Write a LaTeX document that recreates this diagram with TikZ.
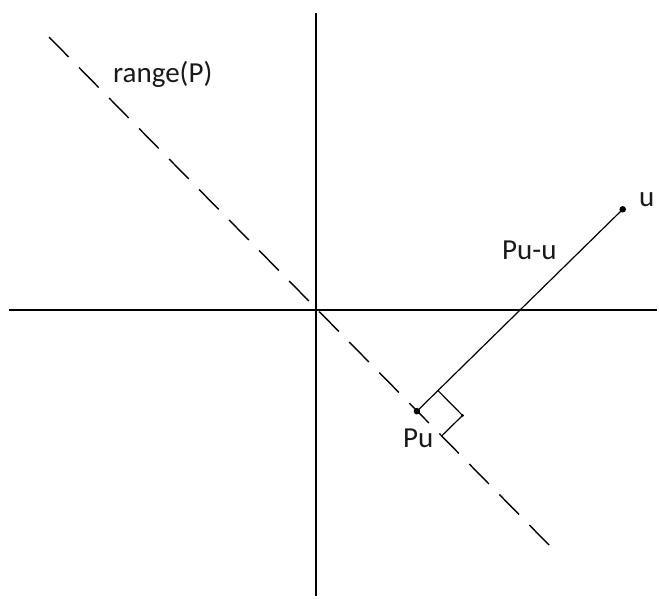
\documentclass[tikz,border=0pt]{standalone}
\usepackage{fontspec}
\setmainfont{Carlito}
\usetikzlibrary{calc}
\definecolor{pline}{RGB}{0,0,0}
\definecolor{ptext}{RGB}{25,25,25}
\tikzset{
  axis/.style={line width=1.8pt,pline},
  rangeline/.style={line width=1.4pt,pline,dash pattern=on 28pt off 14.8pt},
  vecline/.style={line width=1.2pt,pline},
  dot/.style={circle,fill=pline,inner sep=0pt,minimum size=6.5pt},
  smalldot/.style={circle,fill=pline,inner sep=0pt,minimum size=3pt},
  lbl/.style={font=\fontsize{29}{34}\selectfont,text=ptext,inner sep=0pt,anchor=base west},
}
\begin{document}
\begin{tikzpicture}[x=1pt,y=-1pt]
  \useasboundingbox (0,0) rectangle (659,598);
  % axes
  \coordinate (xl) at (9,310);
  \coordinate (xr) at (657,310);
  \coordinate (yt) at (316,13);
  \coordinate (yb) at (316,596);
  \draw[axis] (xl) -- (xr);
  \draw[axis] (yt) -- (yb);
  % range of P
  \coordinate (rt) at (49,37);
  \coordinate (rb) at (551,547);
  \draw[rangeline] (rt) -- (rb);
  % u and its projection
  \node[dot] (u)  at (622.7,209.3) {};
  \node[dot] (pu) at (416.9,411.2) {};
  \draw[vecline] (pu.center) -- (u.center);
  % right angle mark
  \coordinate (ma) at ($(pu.center)!29.5pt!(u.center)$);
  \coordinate (mb) at ($(pu.center)!35pt!(rb)$);
  \node[smalldot] (mc) at ($(ma)+(mb)-(pu.center)$) {};
  \draw[vecline] (ma) -- (mc.center) -- (mb);
  % labels
  \node[lbl] (rlbl) at (113,82)  {range(P)};
  \node[lbl] (vlbl) at (502,259) {Pu-u};
  \node[lbl] (ulbl) at (639,206) {u};
  \node[lbl] (plbl) at (403,447) {Pu};
\end{tikzpicture}
\end{document}
